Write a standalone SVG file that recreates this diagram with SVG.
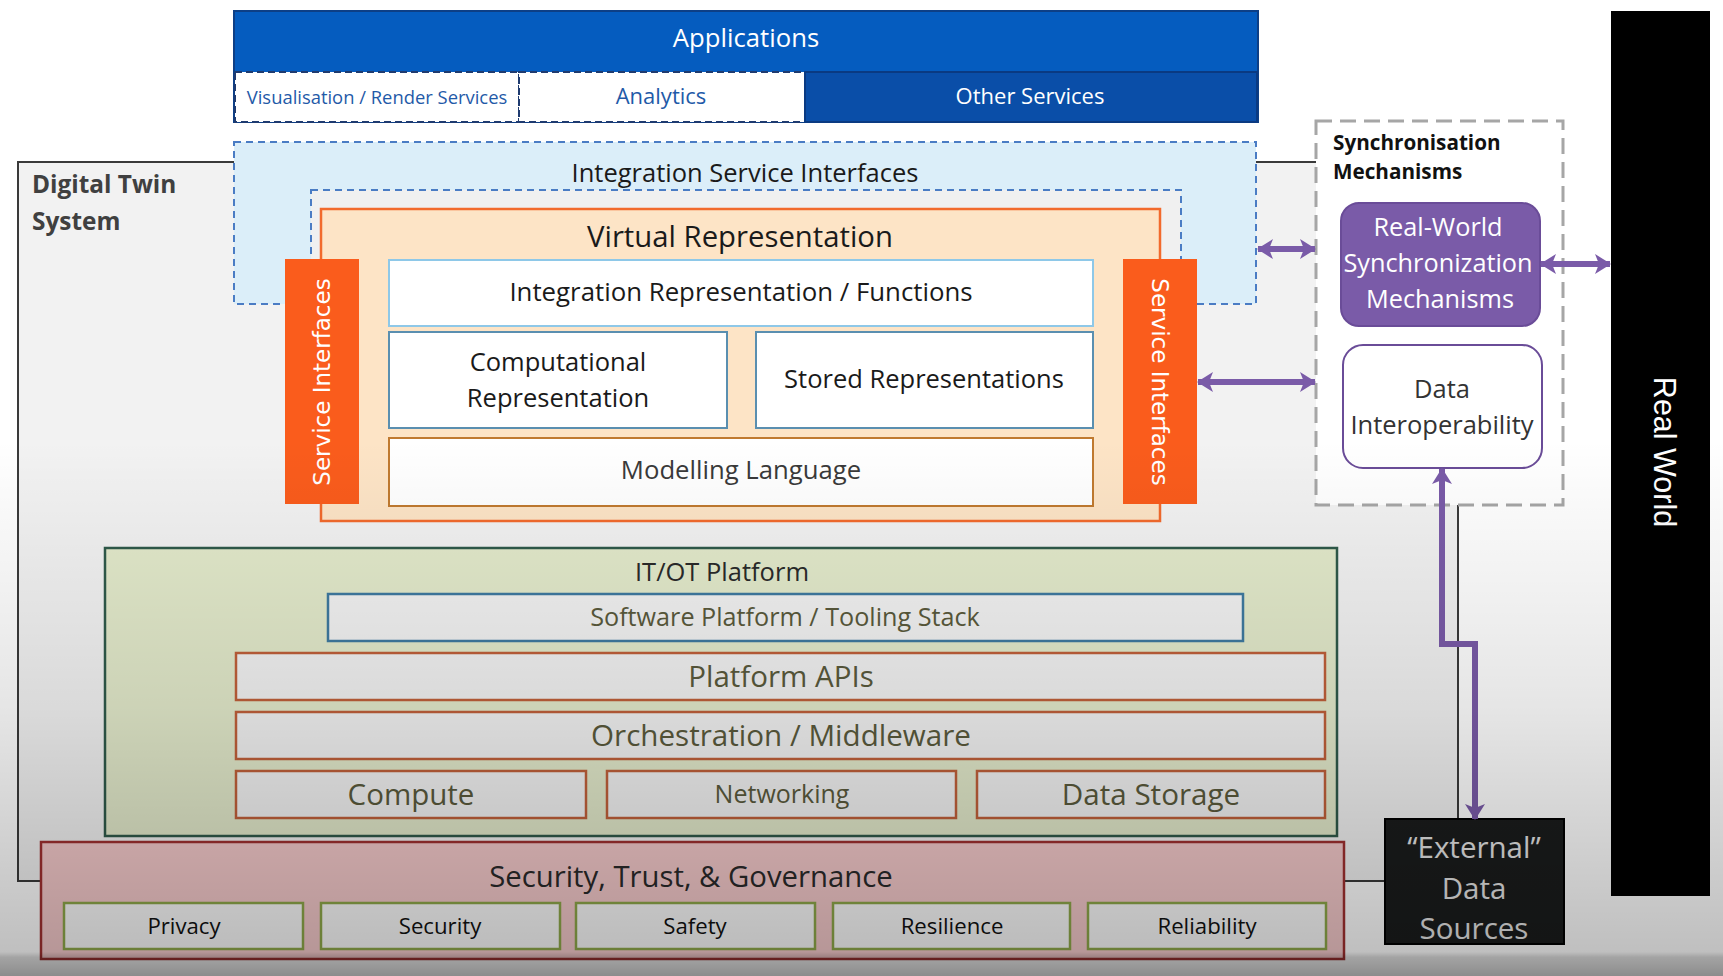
<svg xmlns="http://www.w3.org/2000/svg" width="1723" height="976" viewBox="0 0 1723 976">
<style>
text{font-family:"Open Sans","Noto Sans","DejaVu Sans",sans-serif;dominant-baseline:central;text-anchor:middle}
.dash-blue{stroke:#4a7cc4;stroke-width:2;stroke-dasharray:7 5}
.inner{fill:#ffffff;stroke-width:2}
.itbox{fill:#f2f2f2;stroke:#c0603a;stroke-width:2.5}
.itxt{fill:#5a5a3c}
.secbox{fill:#fafafa;stroke:#8ea84a;stroke-width:2.5}
.conn{stroke:#7a5ba8;stroke-width:6;fill:none}
</style>
<defs>
<marker id="ah" viewBox="0 0 16 20" refX="15" refY="10" markerWidth="16" markerHeight="20" markerUnits="userSpaceOnUse" orient="auto-start-reverse">
<path d="M0,0 L16,10 L0,20 L4,10 Z" fill="#7a5ba8"/>
</marker>
<linearGradient id="shade" gradientUnits="userSpaceOnUse" x1="0" y1="440" x2="0" y2="976">
<stop offset="0" stop-color="#000" stop-opacity="0"/>
<stop offset="0.5" stop-color="#000" stop-opacity="0.1"/>
<stop offset="0.955" stop-color="#000" stop-opacity="0.25"/>
<stop offset="0.965" stop-color="#000" stop-opacity="0.36"/>
<stop offset="1" stop-color="#000" stop-opacity="0.45"/>
</linearGradient>
</defs>
<rect width="1723" height="976" fill="#ffffff"/>

<g id="digital-twin-system">
<rect x="18" y="162" width="1440" height="719" fill="#f2f2f2" stroke="#3a3a3a" stroke-width="2"/>
<text x="32" y="183" style="text-anchor:start;font-weight:bold;font-size:24.4px;fill:#404040">Digital Twin</text>
<text x="32" y="220" style="text-anchor:start;font-weight:bold;font-size:24.4px;fill:#404040">System</text>
</g>

<g id="applications">
<rect x="234" y="11" width="1024" height="111" fill="#055cbf" stroke="#0d3f86" stroke-width="2"/>
<text x="746" y="37" style="font-size:25.7px;fill:#ffffff">Applications</text>
</g>
<g id="visualisation">
<rect x="235" y="72" width="284" height="50" fill="#ffffff" stroke="#1f3b70" stroke-width="2" stroke-dasharray="7 4"/>
<text x="377" y="96" style="font-size:18.4px;fill:#1f5aa8">Visualisation / Render Services</text>
</g>
<g id="analytics">
<rect x="519" y="72" width="286" height="50" fill="#ffffff" stroke="#1f3b70" stroke-width="2" stroke-dasharray="7 4"/>
<text x="661" y="95" style="font-size:22px;fill:#1f5aa8">Analytics</text>
</g>
<g id="other-services">
<rect x="805" y="72" width="452" height="50" fill="#0a4ea8" stroke="#0a3a82" stroke-width="2"/>
<text x="1030" y="95" style="font-size:22px;fill:#ffffff">Other Services</text>
</g>

<g id="integration-service-interfaces">
<rect x="234" y="142" width="1022" height="162" fill="#dbeef9" class="dash-blue"/>
<text x="745" y="172" style="font-size:25.5px;fill:#1a1a1a">Integration Service Interfaces</text>
<rect x="311" y="190" width="870" height="140" fill="#f0f0f0" class="dash-blue"/>
</g>

<g id="virtual-representation">
<rect x="321" y="209" width="839" height="312" fill="#fde4c6" stroke="#f26a2c" stroke-width="2.5"/>
<text x="740" y="236" style="font-size:29.3px;fill:#1a1a1a">Virtual Representation</text>
</g>

<g id="service-interfaces-left">
<rect x="285" y="259" width="74" height="245" fill="#fa5c1c"/>
<text transform="translate(322,382) rotate(-90)" style="font-family:'DejaVu Sans',sans-serif;font-size:23px;fill:#ffffff">Service Interfaces</text>
</g>
<g id="service-interfaces-right">
<rect x="1123" y="259" width="74" height="245" fill="#fa5c1c"/>
<text transform="translate(1160,382) rotate(90)" style="font-family:'DejaVu Sans',sans-serif;font-size:23px;fill:#ffffff">Service Interfaces</text>
</g>

<g id="integration-representation">
<rect x="389" y="260" width="704" height="66" class="inner" stroke="#8ec8e8"/>
<text x="741" y="291" style="font-size:25.8px;fill:#1a1a1a">Integration Representation / Functions</text>
</g>
<g id="computational-representation">
<rect x="389" y="332" width="338" height="96" class="inner" stroke="#5a8fb0"/>
<text x="558" y="361" style="font-size:25.5px;fill:#1a1a1a">Computational</text>
<text x="558" y="397" style="font-size:25.5px;fill:#1a1a1a">Representation</text>
</g>
<g id="stored-representations">
<rect x="756" y="332" width="337" height="96" class="inner" stroke="#5a8fb0"/>
<text x="924" y="378" style="font-size:25.5px;fill:#1a1a1a">Stored Representations</text>
</g>
<g id="modelling-language">
<rect x="389" y="438" width="704" height="68" class="inner" stroke="#c07a30"/>
<text x="741" y="469" style="font-size:25.7px;fill:#3a3a3a">Modelling Language</text>
</g>

<g id="synchronisation-mechanisms">
<rect x="1316" y="121" width="247" height="384" fill="#ffffff" stroke="#a6a6a6" stroke-width="3" stroke-dasharray="16 8"/>
<text x="1333" y="142" style="text-anchor:start;font-weight:bold;font-size:20.7px;fill:#111">Synchronisation</text>
<text x="1333" y="171" style="text-anchor:start;font-weight:bold;font-size:20.7px;fill:#111">Mechanisms</text>
</g>
<g id="real-world-sync">
<rect x="1341" y="203" width="199" height="123" rx="18" fill="#7a5ba8" stroke="#6a4c98" stroke-width="2"/>
<text x="1438" y="226" style="font-size:25.3px;fill:#ffffff">Real-World</text>
<text x="1438" y="262" style="font-size:25.3px;fill:#ffffff">Synchronization</text>
<text x="1440" y="298" style="font-size:25.3px;fill:#ffffff">Mechanisms</text>
</g>
<g id="data-interoperability">
<rect x="1343" y="345" width="199" height="123" rx="20" fill="#ffffff" stroke="#6a4c98" stroke-width="2"/>
<text x="1442" y="388" style="font-size:25.5px;fill:#333">Data</text>
<text x="1442" y="424" style="font-size:25.5px;fill:#333">Interoperability</text>
</g>

<g id="real-world">
<rect x="1611" y="11" width="99" height="885" fill="#000000"/>
<text transform="translate(1665,452) rotate(90)" style="font-family:'Liberation Sans',Arial,sans-serif;font-size:30.5px;fill:#ffffff">Real World</text>
</g>

<g id="it-ot-platform">
<rect x="105" y="548" width="1232" height="288" fill="#e3eacb" stroke="#2f5a4a" stroke-width="2.5"/>
<text x="722" y="571" style="font-size:25.5px;fill:#2a2a2a">IT/OT Platform</text>
</g>
<g id="software-platform">
<rect x="328" y="594" width="915" height="47" fill="#f2f2f2" stroke="#3f7aa0" stroke-width="2.5"/>
<text x="785" y="616" class="itxt" style="font-size:25.2px">Software Platform / Tooling Stack</text>
</g>
<g id="platform-apis">
<rect x="236" y="653" width="1089" height="47" class="itbox"/>
<text x="781" y="675" class="itxt" style="font-size:29.5px">Platform APIs</text>
</g>
<g id="orchestration">
<rect x="236" y="712" width="1089" height="47" class="itbox"/>
<text x="781" y="734" class="itxt" style="font-size:29.6px">Orchestration / Middleware</text>
</g>
<g id="compute">
<rect x="236" y="771" width="350" height="47" class="itbox"/>
<text x="411" y="793" class="itxt" style="font-size:29.5px">Compute</text>
</g>
<g id="networking">
<rect x="607" y="771" width="349" height="47" class="itbox"/>
<text x="782" y="793" class="itxt" style="font-size:25px">Networking</text>
</g>
<g id="data-storage">
<rect x="977" y="771" width="348" height="47" class="itbox"/>
<text x="1151" y="793" class="itxt" style="font-size:29.6px">Data Storage</text>
</g>

<g id="security-trust-governance">
<rect x="41" y="842" width="1303" height="117" fill="#f4c9ca" stroke="#a03030" stroke-width="2.5"/>
<text x="691" y="876" style="font-size:29.3px;fill:#2a2a2a">Security, Trust, &amp; Governance</text>
</g>
<g id="privacy"><rect x="64" y="903" width="239" height="46" class="secbox"/><text x="184" y="925" style="font-size:22.2px;fill:#111">Privacy</text></g>
<g id="security"><rect x="321" y="903" width="239" height="46" class="secbox"/><text x="440" y="925" style="font-size:22.2px;fill:#111">Security</text></g>
<g id="safety"><rect x="576" y="903" width="239" height="46" class="secbox"/><text x="695" y="925" style="font-size:22.2px;fill:#111">Safety</text></g>
<g id="resilience"><rect x="833" y="903" width="237" height="46" class="secbox"/><text x="952" y="925" style="font-size:22.2px;fill:#111">Resilience</text></g>
<g id="reliability"><rect x="1088" y="903" width="238" height="46" class="secbox"/><text x="1207" y="925" style="font-size:22.2px;fill:#111">Reliability</text></g>

<g id="external-data-sources">
<rect x="1385" y="819" width="179" height="125" fill="#1a1c1c" stroke="#000" stroke-width="2"/>
<text x="1474" y="846" style="font-size:29.5px;fill:#e6e6e6">“External”</text>
<text x="1474" y="887" style="font-size:29.5px;fill:#e6e6e6">Data</text>
<text x="1474" y="927" style="font-size:29.5px;fill:#e6e6e6">Sources</text>
</g>

<g id="connectors">
<line x1="1258" y1="249" x2="1315" y2="249" class="conn" marker-start="url(#ah)" marker-end="url(#ah)"/>
<line x1="1541" y1="264" x2="1610" y2="264" class="conn" marker-start="url(#ah)" marker-end="url(#ah)"/>
<line x1="1198" y1="382" x2="1315" y2="382" class="conn" marker-start="url(#ah)" marker-end="url(#ah)"/>
<path d="M1442,469 V644 H1475 V819" class="conn" stroke-width="5" marker-start="url(#ah)" marker-end="url(#ah)"/>
</g>

<rect x="0" y="440" width="1723" height="536" fill="url(#shade)" pointer-events="none"/>
</svg>
